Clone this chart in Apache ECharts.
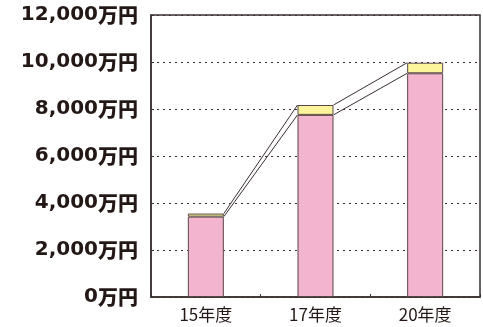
<!DOCTYPE html>
<html>
<head>
<meta charset="utf-8">
<script src="https://cdn.jsdelivr.net/npm/echarts@6/dist/echarts.min.js"></script>
<style>
  html, body { margin: 0; padding: 0; background: #fff; }
  #chart { width: 483px; height: 327px; }
</style>
</head>
<body>
<div id="chart"></div>
<script>
// Fiscal years on the horizontal axis
const years = ['15年度', '17年度', '20年度'];
// Lower (pink) portion of each stacked bar, in 万円
const baseAmounts = [3420, 7750, 9520];
// Upper (yellow) portion stacked on top, in 万円
const addedAmounts = [130, 420, 450];
// Value-axis ticks
const yTicks = [0, 2000, 4000, 6000, 8000, 10000, 12000];

const INK = '#231815';
const BAR_W = 36;

const totals = baseAmounts.map((v, i) => v + addedAmounts[i]);

// Connector segments between neighbouring bar tops
const connectorData = years.slice(0, -1).map((_, i) => [
  i, baseAmounts[i], totals[i], baseAmounts[i + 1], totals[i + 1]
]);

const chart = echarts.init(document.getElementById('chart'), null, { renderer: 'canvas' });

chart.setOption({
  animation: false,
  backgroundColor: '#ffffff',
  grid: {
    left: 151, top: 15, right: 3, bottom: 30,
    show: true, borderColor: '#3a3030', borderWidth: 1.5,
    containLabel: false
  },
  xAxis: {
    type: 'category',
    data: years,
    boundaryGap: true,
    axisLine: { lineStyle: { color: '#3a3030', width: 1.5 } },
    axisTick: { show: true, inside: true, length: 3, lineStyle: { color: '#3a3030' } },
    axisLabel: {
      color: INK, fontSize: 17, margin: 9,
      fontFamily: '"Noto Sans CJK JP", "Noto Sans", sans-serif'
    }
  },
  yAxis: {
    type: 'value',
    min: yTicks[0],
    max: yTicks[yTicks.length - 1],
    interval: yTicks[1] - yTicks[0],
    axisLine: { show: true, lineStyle: { color: '#3a3030', width: 1.5 } },
    axisTick: { show: true, inside: true, length: 3, lineStyle: { color: '#3a3030' } },
    splitLine: { lineStyle: { color: '#3a3030', type: [2, 4], width: 1 } },
    axisLabel: {
      margin: 13,
      formatter: v => '{n|' + v.toLocaleString('en-US') + '}{u|万円}',
      rich: {
        n: {
          color: INK, fontSize: 20, fontWeight: 'bold',
          fontFamily: '"DejaVu Sans", sans-serif'
        },
        u: {
          color: INK, fontSize: 20, fontWeight: 900,
          fontFamily: '"Noto Sans CJK JP", sans-serif'
        }
      }
    }
  },
  series: [
    {
      type: 'bar', stack: 'total', barWidth: BAR_W,
      data: baseAmounts,
      itemStyle: { color: '#f3b4cf', borderColor: '#5a4646', borderWidth: 1 }
    },
    {
      type: 'bar', stack: 'total', barWidth: BAR_W,
      data: addedAmounts,
      itemStyle: { color: '#fdf59b', borderColor: '#5a4646', borderWidth: 1 }
    },
    {
      type: 'custom',
      data: connectorData,
      z: 5,
      renderItem: function (params, api) {
        const i = api.value(0);
        const half = BAR_W / 2;
        const a1 = api.coord([i, api.value(1)]);
        const a2 = api.coord([i, api.value(2)]);
        const b1 = api.coord([i + 1, api.value(3)]);
        const b2 = api.coord([i + 1, api.value(4)]);
        const style = { stroke: '#3a3030', lineWidth: 1 };
        return {
          type: 'group',
          children: [
            { type: 'line', shape: { x1: a1[0] + half, y1: a1[1], x2: b1[0] - half, y2: b1[1] }, style },
            { type: 'line', shape: { x1: a2[0] + half, y1: a2[1], x2: b2[0] - half, y2: b2[1] }, style }
          ]
        };
      }
    }
  ]
});
</script>
</body>
</html>
